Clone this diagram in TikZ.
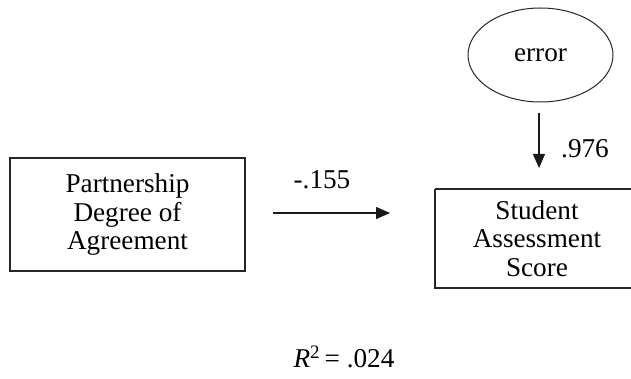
\documentclass[tikz,border=0pt]{standalone}
\usepackage{fontspec}
\setmainfont{Liberation Serif}
\usetikzlibrary{shapes.geometric,arrows.meta}
\begin{document}
\begin{tikzpicture}[x=1pt,y=-1pt,
  txt/.style={font=\fontsize{27.2}{28.8}\selectfont, text=black, inner sep=0pt},
  var/.style={txt, draw=black!85, line width=1.3pt, rectangle, align=center},
  latent/.style={txt, draw=black!85, line width=1pt, ellipse},
  path/.style={draw=black!90, line width=1.3pt, -{Triangle[length=14pt,width=12pt]}}]
  \useasboundingbox (0,0) rectangle (631,379);
  \clip (0,0) rectangle (631,379);

  % observed variables
  \node[var, minimum width=235pt, minimum height=113pt] (pda) at (127.5,214.5)
    {Partnership\\Degree of\\Agreement};
  \node[var, minimum width=204pt, minimum height=98pt, anchor=west] (sas) at (435,238.5)
    {\phantom{Assessment}};
  \node[txt, align=center] (sast) at (537,238.5) {Student\\Assessment\\Score};
  % the right-hand box runs on past the page edge
  \draw[draw=black!85, line width=1.3pt] (sas.north west) -- ++(220,0)
    (sas.north west) -- (sas.south west) -- ++(220,0);

  % disturbance term
  \node[latent, minimum width=145pt, minimum height=94pt] (err) at (540.5,55) {error};

  % regression path
  \coordinate (p1) at (273,213);
  \coordinate (p2) at (390,213);
  \draw[path] (p1) -- (p2);
  \node[txt] (b1) at (322,180) {-.155};

  % error path
  \coordinate (e1) at (539,113);
  \coordinate (e2) at (539,168);
  \draw[path] (e1) -- (e2);
  \node[txt] (b2) at (585,149) {.976};

  % explained variance
  \node[txt] (r2) at (344,357) {\textit{R}\textsuperscript{2}\,= .024};
\end{tikzpicture}
\end{document}
